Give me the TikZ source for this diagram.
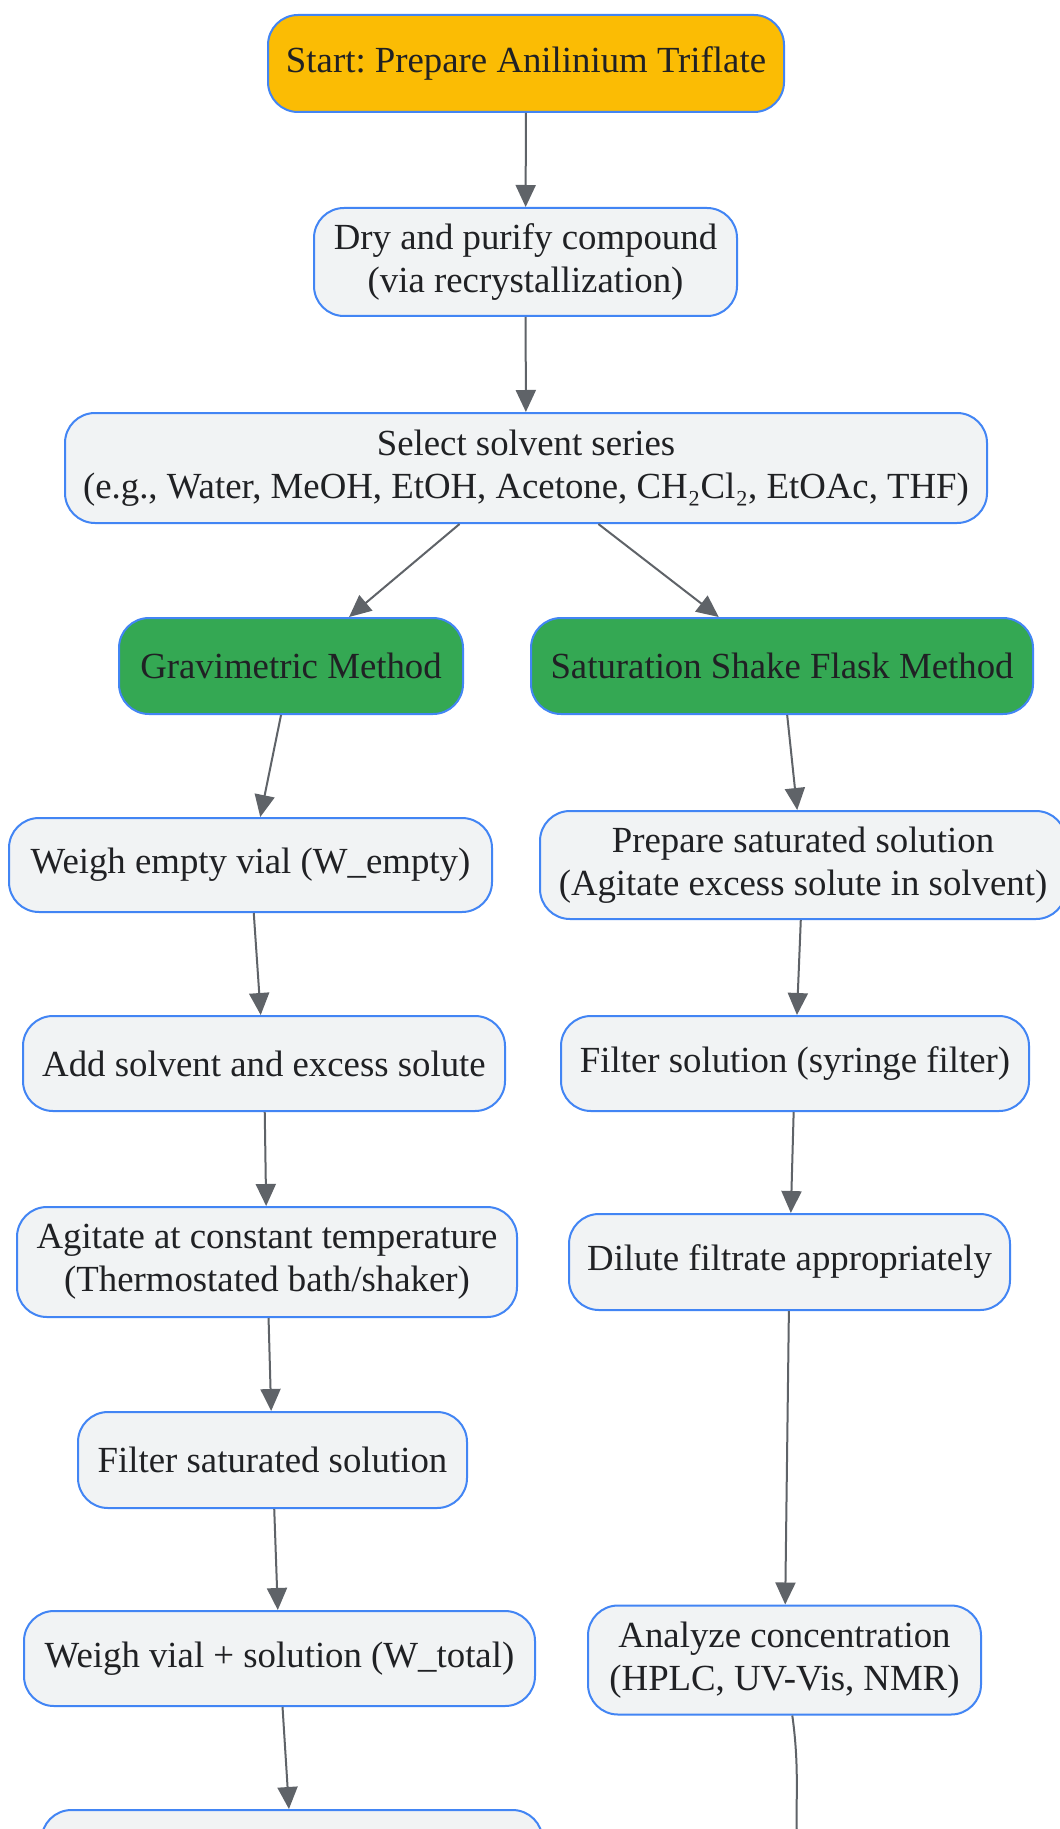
\documentclass[tikz,border=0pt]{standalone}
\usepackage{fontspec}
\setmainfont{Liberation Serif}
\usetikzlibrary{arrows.meta}
\frenchspacing
\definecolor{stepfill}{HTML}{F1F3F4}
\definecolor{stepline}{HTML}{4285F4}
\definecolor{startfill}{HTML}{FBBC04}
\definecolor{methodfill}{HTML}{34A853}
\definecolor{arrowgray}{HTML}{5F6368}
\definecolor{textdark}{HTML}{202124}
\tikzset{
  stepbox/.style={draw=stepline, line width=1pt, fill=stepfill, rounded corners=15pt,
    align=center, text=textdark, font=\fontsize{18.4}{21.5}\selectfont, inner sep=0pt},
  startbox/.style={stepbox, fill=startfill},
  methodbox/.style={stepbox, fill=methodfill},
  flow/.style={draw=arrowgray, line width=1pt, -{Triangle[length=11pt,width=10pt]}}
}
\begin{document}
\begin{tikzpicture}[x=0.5pt,y=-0.5pt]
\useasboundingbox [fill=white] (0,0) rectangle (1059,1829);
\node (start) [startbox, minimum width=258pt, minimum height=48.5pt] at (526,63.5) {Start: Prepare Anilinium Triflate};
\node (dry) [stepbox, minimum width=211.5pt, minimum height=54pt] at (525.5,262) {Dry and purify compound\\(via recrystallization)};
\node (solvent) [stepbox, minimum width=461pt, minimum height=55pt] at (526,468) {Select solvent series\\(e.g., Water, MeOH, EtOH, Acetone, CH₂Cl₂, EtOAc, THF)};
\node (grav) [methodbox, minimum width=172pt, minimum height=48pt] at (291,666) {Gravimetric Method};
\node (shake) [methodbox, minimum width=251pt, minimum height=48pt] at (782,666) {Saturation Shake Flask Method};
\node (wempty) [stepbox, minimum width=241.5pt, minimum height=47pt] at (250.5,865) {Weigh empty vial (W\_empty)};
\node (addsolv) [stepbox, minimum width=241pt, minimum height=47.5pt] at (264,1063.5) {Add solvent and excess solute};
\node (agitate) [stepbox, minimum width=250pt, minimum height=55pt] at (267,1262) {Agitate at constant temperature\\(Thermostated bath/shaker)};
\node (filtsat) [stepbox, minimum width=194.5pt, minimum height=48pt] at (272.5,1460) {Filter saturated solution};
\node (wtotal) [stepbox, minimum width=255.5pt, minimum height=47.5pt] at (279.5,1658.5) {Weigh vial + solution (W\_total)};
\node (lastL) [stepbox, minimum width=250.5pt, minimum height=48pt] at (292,1858) {};
\node (prep) [stepbox, minimum width=263pt, minimum height=54pt] at (803,865) {Prepare saturated solution\\(Agitate excess solute in solvent)};
\node (filtsyr) [stepbox, minimum width=234pt, minimum height=47.5pt] at (795,1063.5) {Filter solution (syringe filter)};
\node (dilute) [stepbox, minimum width=220.5pt, minimum height=48pt] at (789.5,1262) {Dilute filtrate appropriately};
\node (analyze) [stepbox, minimum width=196.5pt, minimum height=54.5pt] at (784.5,1660) {Analyze concentration\\(HPLC, UV-Vis, NMR)};
\coordinate (belowR) at (802,1880);
\draw [flow] (start) -- (dry);
\draw [flow] (dry) -- (solvent);
\draw [flow] (solvent) -- (grav);
\draw [flow] (solvent) -- (shake);
\draw [flow] (grav) -- (wempty);
\draw [flow] (wempty) -- (addsolv);
\draw [flow] (addsolv) -- (agitate);
\draw [flow] (agitate) -- (filtsat);
\draw [flow] (filtsat) -- (wtotal);
\draw [flow] (wtotal) -- (lastL);
\draw [flow] (shake) -- (prep);
\draw [flow] (prep) -- (filtsyr);
\draw [flow] (filtsyr) -- (dilute);
\draw [flow] (dilute) -- (analyze);
\draw [flow] (analyze) to[out=-82,in=98] (belowR);
\end{tikzpicture}
\end{document}
